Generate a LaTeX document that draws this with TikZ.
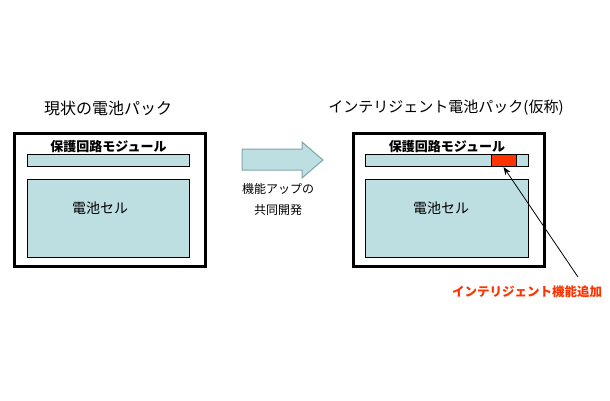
\documentclass[tikz,border=0pt]{standalone}
\usepackage{fontspec}
\setmainfont{Noto Sans CJK JP}
\usetikzlibrary{arrows.meta,positioning}
\definecolor{cellblue}{HTML}{BEDFE2}
\definecolor{addred}{HTML}{FF3300}
\definecolor{arrowedge}{HTML}{7FA4AE}
\tikzset{
  pack/.style={draw,line width=3pt,fill=white,inner sep=0pt,minimum width=191pt,minimum height=133pt},
  part/.style={draw,line width=1pt,fill=cellblue,inner sep=0pt,minimum width=162pt},
  title/.style={font=\fontsize{15}{15}\selectfont},
  modlabel/.style={font=\bfseries\fontsize{13}{13}\selectfont,inner sep=1pt},
  celllabel/.style={font=\fontsize{14}{14}\selectfont}
}
\begin{document}
\begin{tikzpicture}[x=1pt,y=-1pt]
\useasboundingbox[fill=white] (0,0) rectangle (610,400);
\node[title,font=\fontsize{16}{16}\selectfont] (oldtitle) at (108,108) {現状の電池パック};
\node[pack] (oldpack) at (110,200) {};
\node[part,minimum height=12pt] (oldbar) at (108.5,160.5) {};
\node[part,minimum height=78pt] (oldcell) at (108.5,218.5) {};
\node[modlabel,above=0pt of oldbar] (oldmod) {保護回路モジュール};
\node[celllabel] (oldcelltext) at (100,208) {電池セル};
\draw[arrowedge,fill=cellblue,line width=1pt] (242,149) -- (302,149) -- (302,142) -- (323,160) -- (302,178) -- (302,170) -- (242,170) -- cycle;
\node[align=center,font=\fontsize{12}{21}\selectfont] (devtext) at (278,199.5) {機能アップの\\共同開発};
\node[title] (newtitle) at (446,108) {インテリジェント電池パック(仮称)};
\node[pack] (newpack) at (448.5,200) {};
\node[part,minimum height=12pt,minimum width=163pt] (newbar) at (447,160.5) {};
\node[draw,line width=1pt,fill=addred,inner sep=0pt,minimum width=25pt,minimum height=12pt] (addpart) at (503.5,160.5) {};
\node[part,minimum height=78pt,minimum width=163pt] (newcell) at (447,218.5) {};
\node[modlabel,above=0pt of newbar] (newmod) {保護回路モジュール};
\node[celllabel] (newcelltext) at (441,208) {電池セル};
\node[font=\bfseries\fontsize{12.5}{12.5}\selectfont,text=addred] (addlabel) at (527,292) {インテリジェント機能追加};
\coordinate (calltail) at (578,277);
\draw[-{Stealth[length=8pt,width=6pt]},line width=0.8pt] (calltail) -- (addpart.south);
\end{tikzpicture}
\end{document}
